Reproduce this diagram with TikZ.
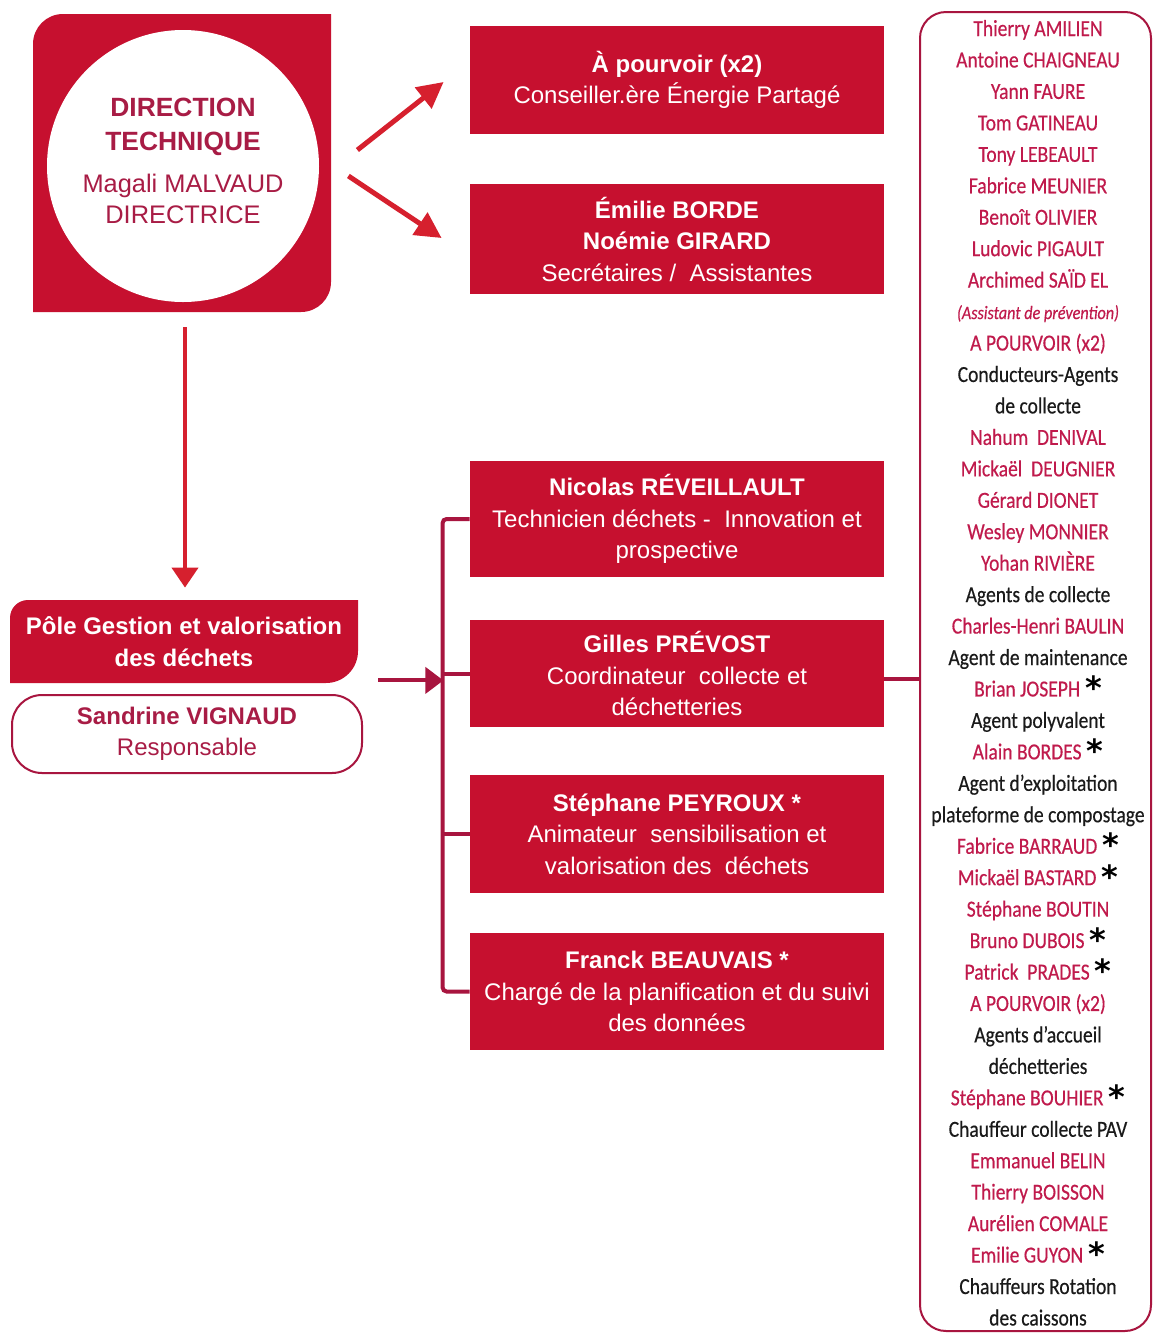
\documentclass[tikz,border=0pt]{standalone}
\usepackage{fontspec}
\setmainfont{Liberation Sans}
\newfontfamily\condf[FakeStretch=0.85,FakeBold=0.4]{Carlito}
\newfontfamily\symf{DejaVu Sans}
\usetikzlibrary{arrows.meta,calc}
\definecolor{boxred}{HTML}{C6102F}
\definecolor{arrred}{HTML}{D6202E}
\definecolor{linecrim}{HTML}{A8153F}
\definecolor{txtcrim}{HTML}{A81C45}
\definecolor{namered}{HTML}{C01A4C}
\definecolor{roleblk}{HTML}{1A1A1A}
\newcommand{\rn}{\color{namered}}
\newcommand{\bk}{\color{roleblk}}
\newcommand{\stx}{\hspace{2.5pt}\raisebox{-1.5pt}{\color{black}\symf\bfseries\fontsize{16}{16}\selectfont*}}
\begin{document}
\begin{tikzpicture}[x=0.5pt,y=-0.5pt,
  mbox/.style={fill=boxred,text=white,align=center,minimum width=207pt,inner sep=0pt,font=\fontsize{12}{15.75}\selectfont},
  diag/.style={draw=arrred,line width=2.5pt,-{Triangle[length=13pt,width=13pt]}},
  varr/.style={draw=arrred,line width=2pt,-{Triangle[length=10pt,width=13pt]}},
  harr/.style={draw=linecrim,line width=2pt,-{Triangle[length=9pt,width=13pt]}},
  brk/.style={draw=linecrim,line width=2pt,rounded corners=2pt},
  colt/.style={anchor=base,inner sep=0pt,font=\condf\fontsize{11.5}{13}\selectfont}]
\useasboundingbox (0,0) rectangle (1153,1334);
\fill[white] (0,0) rectangle (1153,1334);

% Direction technique block
\fill[boxred] (33,44) .. controls (33,27.4) and (46.4,14) .. (63,14) -- (331,14) -- (331,282)
  .. controls (331,298.6) and (317.6,312) .. (301,312) -- (33,312) -- cycle;
\node[minimum width=149pt,minimum height=149pt,inner sep=0pt] (dirbox) at (182,163) {};
\node[circle,fill=white,minimum size=136pt,inner sep=0pt] (dircirc) at (183,166) {};
\node[align=center,text=txtcrim,inner sep=0pt,font=\fontsize{12.7}{15.5}\selectfont] (dirtxt) at (183,160.5)
  {{\bfseries\fontsize{13.2}{15.5}\selectfont DIRECTION}\\[1.5pt]
   {\bfseries\fontsize{13.2}{15.5}\selectfont TECHNIQUE}\\[5.5pt]
   Magali MALVAUD\\DIRECTRICE};

% top boxes
\node[mbox,minimum height=54pt] (top1) at (677,80) {\textbf{À pourvoir (x2)}\\Conseiller.ère Énergie Partagé};
\node[mbox,minimum height=55pt] (top2) at (677,239) {\textbf{Émilie BORDE}\\\textbf{Noémie GIRARD}\\Secrétaires /\ \ Assistantes};

\draw[diag] ($(dirbox.east)+(26,-13)$) -- ($(top1.west)+(-26,2)$);
\draw[diag] ($(dirbox.east)+(17,13)$) -- ($(top2.west)+(-28,-1)$);

% Pôle
\fill[boxred] (10,618) .. controls (10,608) and (18,600) .. (28,600) -- (358,600) -- (358,651)
  .. controls (358,668.7) and (343.7,683) .. (326,683) -- (10,683) -- cycle;
\node[minimum width=174pt,minimum height=41.5pt,inner sep=0pt,text=white,align=center,
  font=\bfseries\fontsize{12}{15.75}\selectfont] (pole) at (184,641.5) {Pôle Gestion et valorisation\\des déchets};
\node[draw=linecrim,line width=1pt,rounded corners=15pt,minimum width=175pt,minimum height=39pt,
  inner sep=0pt,align=center,text=txtcrim,font=\fontsize{12}{15.75}\selectfont] (sand) at (187,734)
  {\textbf{Sandrine VIGNAUD}\\Responsable};

\draw[varr] ($(dirbox.south)+(3,15)$) -- ($(pole.north)+(1,-12)$);

% middle boxes
\node[mbox,minimum height=58pt] (nico) at (677,519) {\textbf{Nicolas RÉVEILLAULT}\\Technicien déchets -\ \ Innovation et\\prospective};
\node[mbox,minimum height=53.5pt] (gill) at (677,673.5) {\textbf{Gilles PRÉVOST}\\Coordinateur\ \ collecte et\\déchetteries};
\node[mbox,minimum height=59pt] (step) at (677,834) {\textbf{Stéphane PEYROUX *}\\Animateur\ \ sensibilisation et\\valorisation des\ \ déchets};
\node[mbox,minimum height=58.5pt] (fran) at (677,991.5) {\textbf{Franck BEAUVAIS *}\\Chargé de la planification et du suivi\\des données};

\draw[brk] (nico.west) -- ++(-27,0) |- (fran.west);
\draw[brk] (gill.west) -- ++(-27,0);
\draw[brk] (step.west) -- ++(-27,0);
\draw[harr] ($(pole.south east)+(20,-3)$) -- ++(65,0);

% right column
\node[draw=linecrim,line width=1pt,rounded corners=13pt,minimum width=115.5pt,minimum height=659.5pt,inner sep=0pt] (col) at (1035.5,671.5) {};
\draw[brk] ([yshift=-2.5pt]gill.east) -- ([yshift=-2.5pt]gill.east -| col.west);

\foreach \t [count=\i] in {
 {\rn Thierry AMILIEN},
 {\rn Antoine CHAIGNEAU},
 {\rn Yann FAURE},
 {\rn Tom GATINEAU},
 {\rn Tony LEBEAULT},
 {\rn Fabrice MEUNIER},
 {\rn Benoît OLIVIER},
 {\rn Ludovic PIGAULT},
 {\rn Archimed SAÏD EL},
 {\rn\itshape\fontsize{9.5}{11}\selectfont (Assistant de prévention)},
 {\rn A POURVOIR (x2)},
 {\bk Conducteurs-Agents},
 {\bk de collecte},
 {\rn Nahum\ \ DENIVAL},
 {\rn Mickaël\ \ DEUGNIER},
 {\rn Gérard DIONET},
 {\rn Wesley MONNIER},
 {\rn Yohan RIVIÈRE},
 {\bk Agents de collecte},
 {\rn Charles-Henri BAULIN},
 {\bk Agent de maintenance},
 {\rn Brian JOSEPH\stx},
 {\bk Agent polyvalent},
 {\rn Alain BORDES\stx},
 {\bk Agent d’exploitation},
 {\bk plateforme de compostage},
 {\rn Fabrice BARRAUD\stx},
 {\rn Mickaël BASTARD\stx},
 {\rn Stéphane BOUTIN},
 {\rn Bruno DUBOIS\stx},
 {\rn Patrick\ \ PRADES\stx},
 {\rn A POURVOIR (x2)},
 {\bk Agents d’accueil},
 {\bk déchetteries},
 {\rn Stéphane BOUHIER\stx},
 {\bk Chauffeur collecte PAV},
 {\rn Emmanuel BELIN},
 {\rn Thierry BOISSON},
 {\rn Aurélien COMALE},
 {\rn Emilie GUYON\stx},
 {\bk Chauffeurs Rotation},
 {\bk des caissons}}
 {\node[colt] (c\i) at (1038,{36+31.45*(\i-1)}) {\t};}
\end{tikzpicture}
\end{document}
